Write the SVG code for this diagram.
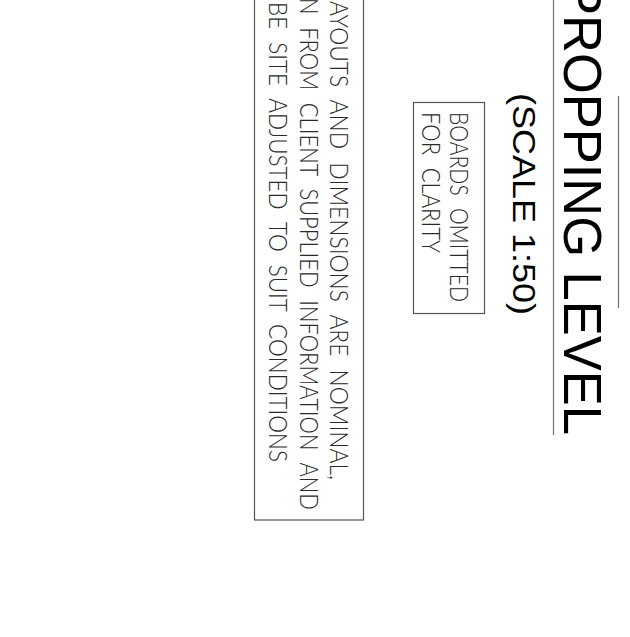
<svg xmlns="http://www.w3.org/2000/svg" width="630" height="637" viewBox="0 0 630 637">
<style>
.t{font-family:"Liberation Sans",Arial,sans-serif;fill:#000}
.n{font-family:Lato,"Open Sans","Liberation Sans",sans-serif;font-weight:300;fill:#2a2a2a;font-size:26px;word-spacing:8px}
.ln{stroke:#6e6e6e;stroke-width:1.2;fill:none}
.bx{stroke:#555;stroke-width:1.2;fill:none}
</style>
<rect width="630" height="637" fill="#fff"/>
<g id="title">
<text class="t" font-size="53" transform="translate(564,-20) rotate(90)" textLength="455" lengthAdjust="spacingAndGlyphs">PROPPING LEVEL</text>
<line class="ln" x1="553.5" y1="0" x2="553.5" y2="435"/>
<line class="ln" x1="618.5" y1="96" x2="618.5" y2="308"/>
</g>
<g id="scale">
<text class="t" font-size="32" transform="translate(513,93) rotate(90)" textLength="222" lengthAdjust="spacingAndGlyphs">(SCALE 1:50)</text>
</g>
<g id="boards-note">
<rect class="bx" x="413.5" y="102.5" width="71" height="211"/>
<text class="n" transform="translate(450,112) rotate(90)" textLength="190" lengthAdjust="spacingAndGlyphs">BOARDS OMITTED</text>
<text class="n" transform="translate(421.5,112) rotate(90)" textLength="141" lengthAdjust="spacingAndGlyphs">FOR CLARITY</text>
</g>
<g id="general-note">
<rect class="bx" x="254.5" y="-2" width="109" height="522"/>
<text class="n" transform="translate(330,1) rotate(90)" textLength="479" lengthAdjust="spacingAndGlyphs">AYOUTS AND DIMENSIONS ARE NOMINAL,</text>
<text class="n" transform="translate(299.5,-2) rotate(90)" textLength="512" lengthAdjust="spacingAndGlyphs">N FROM CLIENT SUPPLIED INFORMATION AND</text>
<text class="n" transform="translate(268.5,2) rotate(90)" textLength="460" lengthAdjust="spacingAndGlyphs">BE SITE ADJUSTED TO SUIT CONDITIONS</text>
</g>
<g id="connectors"/>
</svg>
